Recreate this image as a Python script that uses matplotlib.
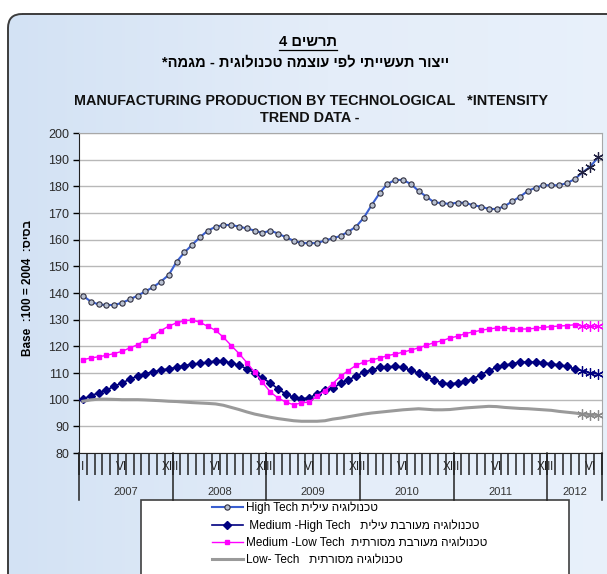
import matplotlib
matplotlib.use("Agg")
import matplotlib.pyplot as plt
import numpy as np
from matplotlib.patches import FancyBboxPatch, Rectangle
from matplotlib.colors import LinearSegmentedColormap
import matplotlib.transforms as mtransforms

plt.rcParams['font.family'] = ['Liberation Sans', 'DejaVu Sans']

# ---------------- data (monthly, Jan 2007 - Jul 2012) ----------------
years = [2007, 2008, 2009, 2010, 2011, 2012]
months_per_year = [12, 12, 12, 12, 12, 7]
month_labels = ["I", "", "", "", "", "VI", "", "", "", "", "", "XII"]

high_tech = [139.0, 136.8, 135.7, 135.5, 135.5, 136.3, 137.6, 139.0, 140.6, 142.2,
             144.3, 146.8, 151.7, 155.2, 158.1, 160.9, 163.4, 164.8, 165.5, 165.5,
             164.9, 164.2, 163.4, 162.5, 163.4, 162.3, 160.9, 159.6, 158.7, 158.7,
             158.7, 159.7, 160.5, 161.4, 163.0, 164.9, 168.3, 173.0, 177.4, 180.9,
             182.4, 182.4, 180.9, 178.3, 176.1, 174.0, 173.7, 173.4, 173.9, 173.8,
             172.9, 172.4, 171.5, 171.5, 172.5, 174.4, 176.1, 178.3, 179.5, 180.4,
             180.4, 180.4, 181.2, 182.7, 185.2, 187.4, 190.9]

medium_high = [100.3, 101.5, 102.5, 103.6, 105.0, 106.3, 107.6, 108.9, 109.8, 110.4,
               111.1, 111.6, 112.1, 112.8, 113.3, 113.6, 114.0, 114.5, 114.4, 113.8,
               112.9, 111.6, 110.0, 108.1, 106.3, 104.0, 102.1, 100.9, 100.4, 100.6,
               102.3, 103.6, 104.2, 106.2, 107.5, 108.8, 110.4, 111.1, 112.1, 112.3,
               112.5, 112.1, 111.0, 110.0, 108.8, 107.3, 106.3, 105.9, 106.3, 106.9,
               107.9, 109.4, 110.9, 112.1, 112.9, 113.5, 114.1, 114.1, 114.1, 113.8,
               113.4, 113.1, 112.5, 111.5, 110.9, 110.0, 109.6]

medium_low = [115.0, 115.6, 116.1, 116.6, 117.3, 118.1, 119.4, 120.6, 122.3, 124.0,
              125.9, 127.6, 128.8, 129.6, 129.9, 129.0, 127.5, 126.0, 123.4, 120.3,
              117.3, 113.9, 110.3, 106.5, 102.9, 100.6, 99.1, 98.1, 98.8, 99.1,
              101.3, 103.4, 106.0, 108.8, 110.9, 112.9, 114.1, 114.9, 115.6, 116.5,
              117.1, 117.8, 118.6, 119.4, 120.4, 121.4, 122.1, 123.1, 123.8, 124.8,
              125.4, 126.0, 126.5, 126.9, 126.9, 126.5, 126.5, 126.5, 126.8, 127.1,
              127.4, 127.6, 127.8, 128.1, 127.5, 127.5, 127.5]

low_tech = [99.4, 99.9, 100.2, 100.2, 100.1, 100.0, 100.0, 100.0, 99.9, 99.75,
            99.6, 99.4, 99.3, 99.1, 98.9, 98.75, 98.6, 98.4, 97.9, 97.1,
            96.3, 95.4, 94.6, 94.0, 93.4, 92.9, 92.5, 92.1, 91.9, 91.9,
            91.9, 92.1, 92.7, 93.1, 93.6, 94.1, 94.6, 95.0, 95.3, 95.6,
            95.9, 96.2, 96.4, 96.6, 96.4, 96.2, 96.2, 96.3, 96.6, 96.9,
            97.1, 97.3, 97.5, 97.4, 97.1, 96.9, 96.7, 96.6, 96.4, 96.2,
            96.0, 95.6, 95.3, 95.0, 94.6, 94.4, 94.1]

n_provisional = 3  # last points drawn with star markers

label_high = "High Tech " + "טכנולוגיה עילית"[::-1]
label_mh = " Medium -High Tech   " + "טכנולוגיה מעורבת עילית"[::-1]
label_ml = "Medium -Low Tech  " + "טכנולוגיה מעורבת מסורתית"[::-1]
label_low = "Low- Tech   " + "טכנולוגיה מסורתית"[::-1]

title_he1 = "4 " + "תרשים"[::-1]
title_he2 = "ייצור תעשייתי לפי עוצמה טכנולוגית - מגמה*"[::-1]
title_en1 = "MANUFACTURING PRODUCTION BY TECHNOLOGICAL   *INTENSITY"
title_en2 = "TREND DATA -"
ylabel = "Base  :100 = 2004  :" + "בסיס"[::-1]

# ---------------- figure ----------------
W, H = 607, 574
fig = plt.figure(figsize=(W / 100, H / 100), dpi=100, facecolor="white")

# background (pixel coordinates)
bg = fig.add_axes([0, 0, 1, 1], zorder=-5)
bg.set_xlim(0, W)
bg.set_ylim(H, 0)
bg.axis("off")
frame = FancyBboxPatch((8, 14), 640, 640, boxstyle="round,pad=0,rounding_size=14",
                       facecolor="none", edgecolor="#3c3c3c", lw=1.4, zorder=3)
bg.add_patch(frame)
grad = np.linspace(0, 1, 256).reshape(1, -1)
cmap = LinearSegmentedColormap.from_list("bgc", ["#d3e2f4", "#e4edf9", "#e9f1fb"])
im = bg.imshow(grad, extent=(8, 648, 654, 14), cmap=cmap, aspect="auto", zorder=1)
im.set_clip_path(frame)

# legend box
bg.add_patch(Rectangle((141, 500), 428, 120, facecolor="white", edgecolor="#404040",
                       lw=1.2, zorder=4))

# titles
t1 = bg.text(308, 42, title_he1, ha="center", va="center", fontsize=10.5,
             fontweight="bold", zorder=5)
bg.text(306, 62, title_he2, ha="center", va="center", fontsize=10.5,
        fontweight="bold", zorder=5)
bg.text(311, 101, title_en1, ha="center", va="center", fontsize=10.4,
        fontweight="bold", color="#111111", zorder=5)
bg.text(310, 118, title_en2, ha="center", va="center", fontsize=10.4,
        fontweight="bold", color="#111111", zorder=5)
bg.text(28, 288, ylabel, ha="center", va="center", rotation=90, fontsize=8.5,
        fontweight="bold", zorder=5)

# ---------------- main axes ----------------
left, right, top, bottom = 79, 602, 133, 453
ax = fig.add_axes([left / W, 1 - bottom / H, (right - left) / W, (bottom - top) / H])
ax.set_facecolor("white")

n = len(high_tech)
x = np.arange(n)

series = [
    (high_tech, dict(color="#3a5fd0", lw=1.5, marker="o", ms=3.8, mfc="#b8c0d0",
                     mec="#303040", mew=0.8), label_high, "#202040"),
    (medium_high, dict(color="#000080", lw=1.2, marker="D", ms=4.3, mfc="#000080",
                       mec="#000080"), label_mh, "#000080"),
    (medium_low, dict(color="#ff00ff", lw=1.0, marker="s", ms=3.2, mfc="#ff00ff",
                      mec="#ff00ff"), label_ml, "#ff00ff"),
    (low_tech, dict(color="#9a9a9a", lw=2.2), label_low, "#8a8a8a"),
]

handles = []
for vals, style, lab, star_col in series:
    vals = np.asarray(vals)
    st = dict(style)
    if "marker" in st:
        st["markevery"] = list(range(0, n - n_provisional))
    h, = ax.plot(x, vals, label=lab, zorder=3, **st)
    ax.plot(x[-n_provisional:], vals[-n_provisional:], linestyle="none",
            marker=(6, 2, 0), ms=7.5, mew=0.9, color=star_col, zorder=4)
    handles.append(h)

ax.set_xlim(-0.5, n - 0.5)
ax.set_ylim(80, 200)
ax.set_yticks(np.arange(80, 201, 10))
ax.yaxis.grid(True, color="#b8b8b8", lw=1.0)
ax.set_axisbelow(True)
ax.tick_params(axis="y", direction="out", length=4, width=1, labelsize=9,
               labelcolor="#2a2a2a", pad=3)

# month boundaries as major ticks, month labels as minor ticks
ax.set_xticks(np.arange(n + 1) - 0.5)
ax.set_xticklabels([])
ax.tick_params(axis="x", which="major", direction="out", length=16, width=1.1,
               color="#222222")
ax.set_xticks(x, minor=True)
ax.set_xticklabels([month_labels[i % 12] for i in x], minor=True)
ax.tick_params(axis="x", which="minor", length=0, labelsize=8.5, pad=6,
               labelcolor="#222222")

for s in ["top", "right"]:
    ax.spines[s].set_color("#a8a8a8")
ax.spines["left"].set_color("#222222")
ax.spines["bottom"].set_color("#222222")

# year separators and year labels
trans = mtransforms.blended_transform_factory(ax.transData, ax.transAxes)
ext = (500 - bottom) / (bottom - top)
start = 0
bounds = [-0.5]
for yr, cnt in zip(years, months_per_year):
    ax.text(start + (cnt - 1) / 2, -(492 - bottom) / (bottom - top), str(yr),
            transform=trans, ha="center", va="center", fontsize=8, color="#333333")
    start += cnt
    bounds.append(start - 0.5)
for b in bounds:
    ax.plot([b, b], [0, -ext], transform=trans, color="#222222", lw=1.1,
            clip_on=False, zorder=5)

# legend
fig.legend(handles=handles, loc="upper left",
           bbox_to_anchor=(212 / W, 1 - 502 / H), frameon=False, fontsize=8.5,
           borderpad=0, borderaxespad=0, handlelength=2.6, handletextpad=0.3,
           labelspacing=0.42)

# underline of the figure number
fig.canvas.draw()
bb = t1.get_window_extent()
inv = bg.transData.inverted()
(x0, y0), (x1, y1) = inv.transform([(bb.x0, bb.y0), (bb.x1, bb.y1)])
bg.plot([x0, x1], [y0 + 1, y0 + 1], color="black", lw=0.9, zorder=5)

fig.savefig("out.png", dpi=100, facecolor="white")
